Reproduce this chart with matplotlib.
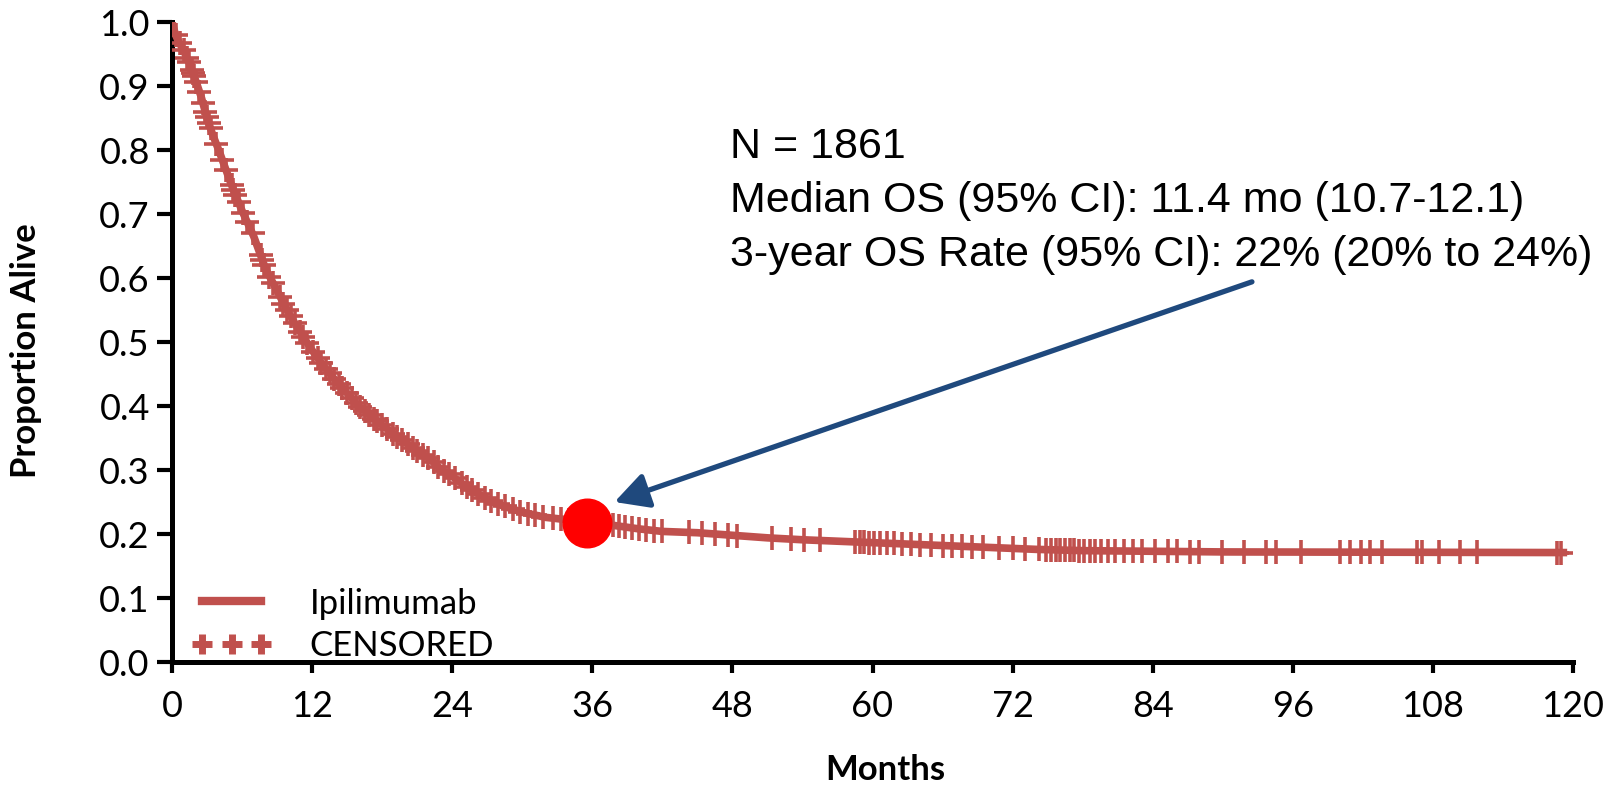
import matplotlib
matplotlib.use('Agg')
import matplotlib.pyplot as plt
from matplotlib.lines import Line2D

# KM curve (months, proportion alive)
km_t = [0, 0.3, 0.5, 1.0, 1.5, 2.0, 2.5, 3.0, 3.5, 4.0, 4.5, 5.0, 5.5, 6.0, 7.0, 8.0, 9.0, 10.0,
        11.0, 12.0, 13.0, 14.0, 15.0, 16.0, 17.0, 18.0, 19.0, 20.0, 21.0, 22.0, 23.0, 24.0, 25.0,
        26.0, 27.0, 28.0, 30.0, 32.0, 34.0, 36.0, 38.0, 40.0, 42.0, 45.0, 48.0, 51.0, 54.0, 58.0,
        62.0, 66.0, 70.0, 74.0, 78.0, 84.0, 90.0, 119.5]
km_s = [1.0, 0.98, 0.972, 0.955, 0.935, 0.91, 0.883, 0.85, 0.823, 0.80, 0.775, 0.75, 0.727, 0.705,
        0.665, 0.615, 0.58, 0.545, 0.515, 0.487, 0.462, 0.44, 0.42, 0.40, 0.385, 0.37, 0.356, 0.343,
        0.33, 0.318, 0.302, 0.29, 0.277, 0.265, 0.255, 0.246, 0.234, 0.226, 0.222, 0.219, 0.213,
        0.208, 0.204, 0.202, 0.198, 0.194, 0.191, 0.188, 0.185, 0.182, 0.179, 0.176, 0.174, 0.173,
        0.172, 0.171]

# censored observations
cens_t = [0.3, 0.65, 1.0, 1.3, 1.42, 1.7, 1.8, 1.9, 2.05, 2.35, 2.65, 2.85, 2.97, 3.15, 3.3, 3.8,
          4.3, 4.6, 5.1, 5.25, 5.43, 5.7, 6.1, 6.4, 6.9, 7.6, 7.75, 7.9, 8.35, 8.65, 9.25, 9.55,
          9.85, 10.15, 10.55, 10.97, 11.25, 11.6,
          12.1, 12.5, 12.8, 13.2, 13.5, 13.9, 14.3, 14.6, 15.0, 15.4, 15.8, 16.1, 16.5, 16.9, 17.3,
          17.6, 18.0, 18.4, 18.9, 19.3, 19.7, 20.2, 20.6, 21.0, 21.5, 21.9, 22.4, 22.8, 23.3, 23.7,
          24.2, 24.8, 25.3, 25.7, 26.2, 26.8, 27.3, 27.9, 28.5, 29.2, 29.8, 30.5, 31.1, 31.8, 32.6,
          33.3, 34.0, 34.8,
          36.5, 37.2, 37.8, 38.3, 38.8, 39.4, 40.0, 40.6, 41.3, 42.0, 44.3, 45.4, 46.5, 47.6, 48.4,
          51.4, 53.0, 54.1, 55.5, 58.5, 58.9, 59.3, 59.7, 60.1, 60.6, 61.2, 61.8, 62.5, 63.3, 64.1,
          65.0, 66.0, 66.8, 67.7, 68.5, 69.5, 70.8, 72.0, 73.1, 74.3, 74.9, 75.3, 75.7, 76.1, 76.5,
          76.9, 77.3, 77.7, 78.1, 78.6, 79.1, 79.6, 80.2, 80.8, 81.5, 82.3, 83.1, 84.2, 85.3, 86.1,
          87.2, 88.0, 89.9, 91.8, 93.7, 94.6, 96.7, 100.0, 100.9, 101.8, 102.6, 103.6, 106.6, 107.1,
          108.5, 110.3, 111.8, 118.6, 119.0]
cens_s = [0.98, 0.967, 0.956, 0.943, 0.938, 0.925, 0.92, 0.915, 0.907, 0.891, 0.873, 0.86, 0.852,
          0.842, 0.834, 0.81, 0.784, 0.769, 0.745, 0.738, 0.73, 0.719, 0.701, 0.688, 0.67, 0.636,
          0.628, 0.62, 0.602, 0.592, 0.571, 0.56, 0.55, 0.54, 0.529, 0.516, 0.508, 0.498,
          0.485, 0.475, 0.467, 0.458, 0.451, 0.442, 0.434, 0.428, 0.42, 0.412, 0.404, 0.398, 0.392,
          0.386, 0.380, 0.376, 0.37, 0.364, 0.357, 0.352, 0.347, 0.340, 0.335, 0.33, 0.324, 0.319,
          0.312, 0.305, 0.298, 0.294, 0.287, 0.280, 0.273, 0.269, 0.263, 0.257, 0.252, 0.247, 0.243,
          0.239, 0.235, 0.232, 0.230, 0.227, 0.225, 0.223, 0.222, 0.221,
          0.2175, 0.2154, 0.2136, 0.2123, 0.211, 0.2095, 0.208, 0.2068, 0.2054, 0.204, 0.2025,
          0.2015, 0.200, 0.1985, 0.1975, 0.1936, 0.192, 0.191, 0.1899, 0.1876, 0.1873, 0.187,
          0.1867, 0.1864, 0.186, 0.1856, 0.1852, 0.1846, 0.184, 0.1834, 0.1828, 0.182, 0.1814,
          0.1807, 0.1801, 0.1794, 0.1784, 0.1775, 0.1767, 0.1759, 0.1755, 0.1753, 0.1752, 0.175,
          0.1748, 0.1746, 0.1744, 0.1742, 0.174, 0.1739, 0.1738, 0.1737, 0.1736, 0.1735, 0.1734,
          0.1733, 0.1732, 0.173, 0.1728, 0.1727, 0.1725, 0.1723, 0.172, 0.1719, 0.1719, 0.1718,
          0.1718, 0.1717, 0.1717, 0.1716, 0.1716, 0.1715, 0.1714, 0.1714, 0.1714, 0.1713, 0.1713,
          0.171, 0.171]

# 3-year point and text
point_t, point_s = 35.55, 0.217
arrow_from = (92.5, 0.594)
arrow_to = (37.9, 0.25)
info_lines = ['N = 1861',
              'Median OS (95% CI): 11.4 mo (10.7-12.1)',
              '3-year OS Rate (95% CI): 22% (20% to 24%)']
info_y = [0.787, 0.703, 0.619]
info_x = 47.8

x_ticks = list(range(0, 121, 12))
y_ticks = [i / 10 for i in range(11)]

red = '#C0504D'
calibri = 'Lato'

fig = plt.figure(figsize=(16.07, 7.85), dpi=100)
ax = fig.add_axes([172 / 1607, 123 / 785, 1401 / 1607, 640 / 785])

ax.plot(km_t, km_s, color=red, lw=5.5, solid_capstyle='butt', zorder=3)
ax.plot(cens_t, cens_s, ls='none', marker='+', ms=17, mew=2.6, color=red, zorder=3)
ax.plot([point_t], [point_s], 'o', ms=35, color='#FF0000', zorder=5)

ax.annotate('', xy=arrow_to, xytext=arrow_from,
            arrowprops=dict(arrowstyle='-|>,head_length=0.85,head_width=0.45', color='#1F497D',
                            lw=3.8, mutation_scale=24, shrinkA=0, shrinkB=0), zorder=6)
for txt, yy in zip(info_lines, info_y):
    ax.text(info_x, yy, txt, fontsize=31, family='Liberation Sans', va='baseline', ha='left')

ax.set_xlim(0, 120)
ax.set_ylim(0, 1)
ax.set_xticks(x_ticks)
ax.set_yticks(y_ticks)
ax.set_xticklabels([str(v) for v in x_ticks], family=calibri, fontsize=26)
ax.set_yticklabels(['%.1f' % v for v in y_ticks], family=calibri, fontsize=26)
for s in ['top', 'right']:
    ax.spines[s].set_visible(False)
for s in ['left', 'bottom']:
    ax.spines[s].set_linewidth(3.6)
ax.tick_params(axis='x', direction='out', length=8, width=3, pad=12)
ax.tick_params(axis='y', direction='out', length=11, width=3, pad=5)

ax.set_xlabel('Months', family=calibri, fontweight='bold', fontsize=25)
ax.xaxis.set_label_coords(0.509, -0.143)
ax.set_ylabel('Proportion Alive', family=calibri, fontweight='bold', fontsize=25)
ax.yaxis.set_label_coords(-0.093, 0.487)

handles = [Line2D([], [], color=red, lw=6),
           Line2D([], [], color=red, ls='none', marker='+', ms=14, mew=5)]
ax.legend(handles, ['Ipilimumab', 'CENSORED'], loc='lower left', bbox_to_anchor=(0.014, 0.0),
          frameon=False, numpoints=3, handlelength=2.3, handletextpad=1.1, labelspacing=0.3,
          borderpad=0, borderaxespad=0, prop={'family': calibri, 'size': 25})

fig.savefig('out.png', dpi=100)
